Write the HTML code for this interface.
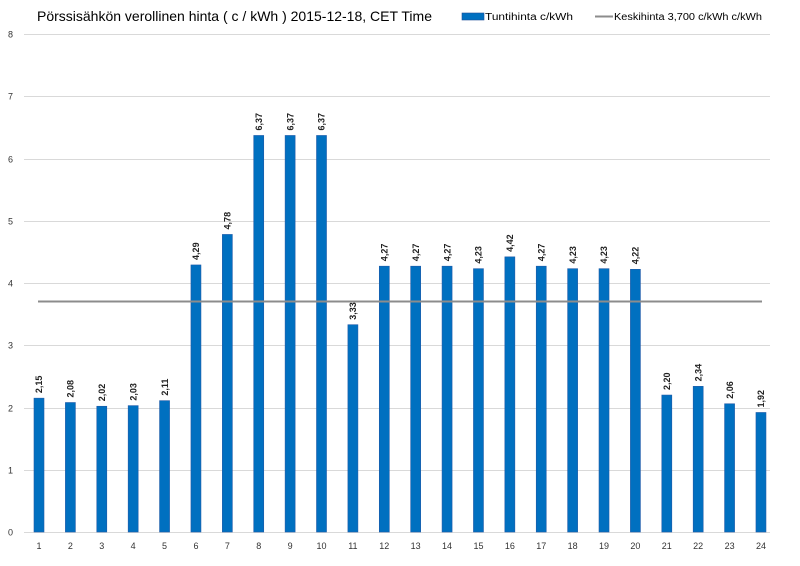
<!DOCTYPE html>
<html><head><meta charset="utf-8"><style>body{margin:0;background:#fff}svg{display:block}</style></head><body>
<svg width="800" height="566" xmlns="http://www.w3.org/2000/svg" font-family="Liberation Sans, sans-serif">
<rect width="800" height="566" fill="#fff"/>
<text x="37" y="21" font-size="14" fill="#000" textLength="395" lengthAdjust="spacingAndGlyphs">Pörssisähkön verollinen hinta ( c / kWh ) 2015-12-18, CET Time</text>
<rect x="462" y="13" width="22" height="7" fill="#0070c0" stroke="#1f4e9a" stroke-width="0.6"/>
<text x="485" y="20" font-size="10" textLength="88" lengthAdjust="spacingAndGlyphs">Tuntihinta c/kWh</text>
<line x1="595" y1="16.5" x2="613" y2="16.5" stroke="#8c8c8c" stroke-width="2"/>
<text x="614" y="20" font-size="10" textLength="148" lengthAdjust="spacingAndGlyphs">Keskihinta 3,700 c/kWh c/kWh</text>
<g id="grid" stroke="#d9d9d9" stroke-width="1"></g>
<g id="ylab" font-size="9" fill="#333"></g>
<g id="bars"></g>
<line x1="38" y1="301.5" x2="762" y2="301.5" stroke="#8c8c8c" stroke-width="2"/>
<g id="lab" font-size="9" font-weight="bold" fill="#222"></g>
<g id="xlab" font-size="9" fill="#333" text-anchor="middle"></g>
</svg>
<script>
const ns="http://www.w3.org/2000/svg";
function el(p,t,a,txt){const e=document.createElementNS(ns,t);for(const k in a)e.setAttribute(k,a[k]);if(txt!==undefined)e.textContent=txt;document.getElementById(p).appendChild(e);}
const y0=532,u=62.25;
for(let i=0;i<=8;i++){const y=Math.round(y0-i*u)+0.5;el('grid','line',{x1:24,x2:770,y1:y,y2:y});el('ylab','text',{x:8,y:y+3},i);}
const v=[2.15,2.08,2.02,2.03,2.11,4.29,4.78,6.37,6.37,6.37,3.33,4.27,4.27,4.27,4.23,4.42,4.27,4.23,4.23,4.22,2.20,2.34,2.06,1.92];
v.forEach((d,i)=>{const cx=39+i*31.39;const top=y0-d*u;
el('bars','rect',{x:cx-5,y:top,width:10,height:y0-top,fill:'#0070c0',stroke:'#1f5aa8','stroke-width':0.6});
const s=d.toFixed(2).replace('.',',');
el('lab','text',{x:0,y:0,transform:`translate(${cx+3.2},${top-5}) rotate(-90)`},s);
el('xlab','text',{x:cx,y:549},i+1);});
</script>
</body></html>
